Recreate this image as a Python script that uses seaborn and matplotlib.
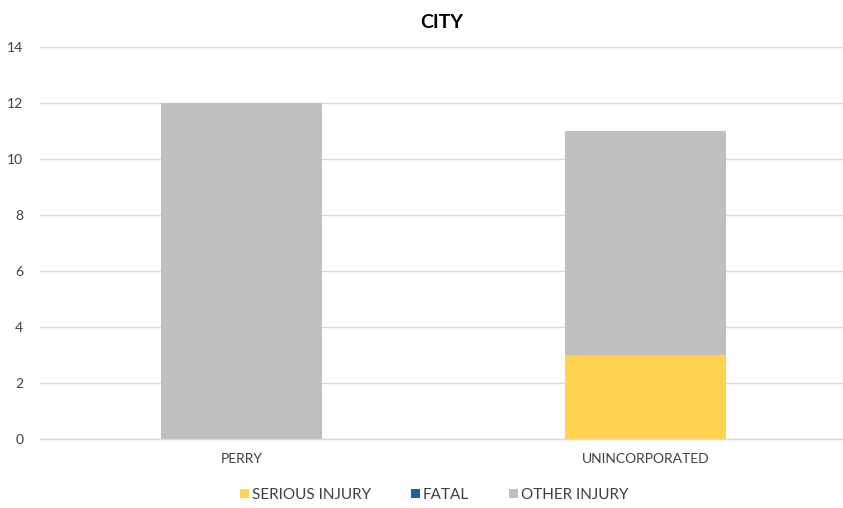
import matplotlib
matplotlib.use("Agg")
import matplotlib.pyplot as plt
from matplotlib.patches import Patch
import seaborn as sns
import numpy as np
import pandas as pd

cities = ["PERRY", "UNINCORPORATED"]
serious_injury = [0, 3]
fatal = [0, 0]
other_injury = [12, 8]
series_names = ["SERIOUS INJURY", "FATAL", "OTHER INJURY"]
colors = ["#FFD34F", "#1F5FA8", "#BFBFBF"]
yticks = [0, 2, 4, 6, 8, 10, 12, 14]

sns.set_theme(style="white")
plt.rcParams["font.family"] = ["Lato", "DejaVu Sans"]

fig = plt.figure(figsize=(8.43, 5.08), dpi=100)
ax = fig.add_axes([40/843, 1-439/508, 1-40/843, (439-47)/508])

layers = [serious_injury, fatal, other_injury]
bottom = np.zeros(len(cities))
for vals, col in zip(layers, colors):
    df = pd.DataFrame({"city": cities, "v": vals})
    sns.barplot(data=df, x="city", y="v", color=col, bottom=bottom, width=0.4,
                ax=ax, saturation=1, linewidth=0, errorbar=None)
    bottom = bottom + np.array(vals)

ax.set_xlim(-0.5, 1.49)
ax.set_ylim(0, 14)
ax.set_yticks(yticks)
ax.yaxis.grid(True, color="#D9D9D9", linewidth=1)
ax.set_axisbelow(True)
for s in ["top", "right", "left"]:
    ax.spines[s].set_visible(False)
ax.spines["bottom"].set_color("#D9D9D9")
ax.spines["bottom"].set_linewidth(1)
ax.tick_params(axis="both", length=0, labelsize=10, colors="#404040")
ax.tick_params(axis="x", pad=10)
ax.tick_params(axis="y", pad=12)
ax.set_xlabel("")
ax.set_ylabel("")
ax.set_title("CITY", fontsize=14, fontweight="bold", color="#000000", pad=14)

handles = [Patch(facecolor=c, edgecolor="none") for c in colors]
fig.legend(handles, series_names, loc="center", bbox_to_anchor=(434/843, 13/508),
           ncol=3, frameon=False, fontsize=11, handlelength=0.6, handleheight=0.6,
           handletextpad=0.2, columnspacing=2.6, labelcolor="#404040")

fig.savefig("out.png", dpi=100)
